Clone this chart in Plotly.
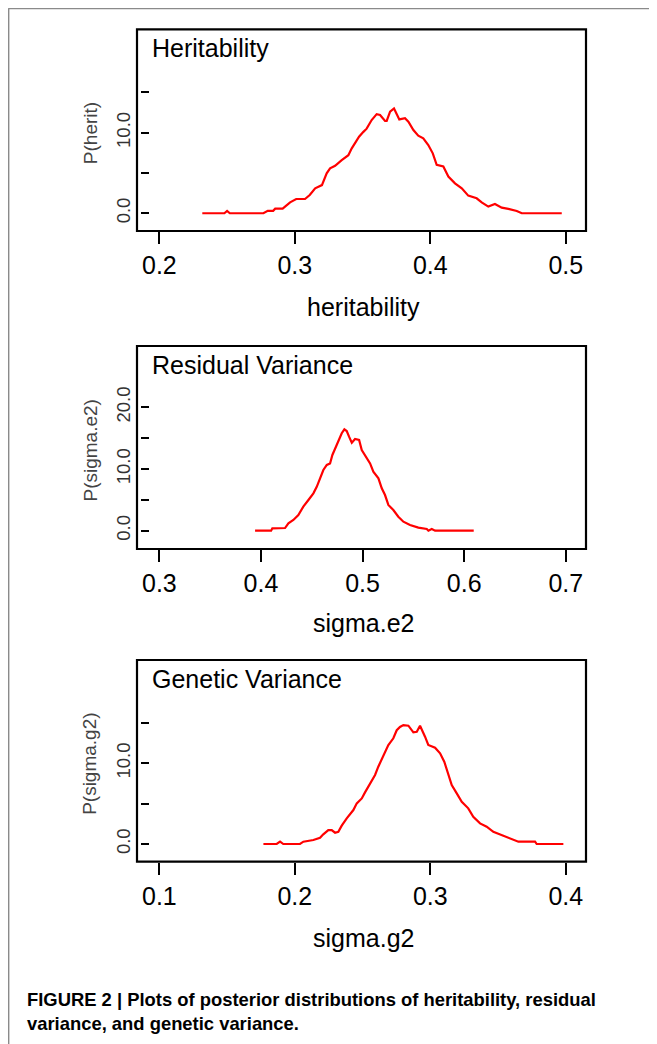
import plotly.graph_objects as go

# page body has an 8px default margin; the figure fills the rest of the window
OFF = 8
W, H = 657 - OFF, 1044 - OFF

# ---- data ----
herit_x = [0.2317, 0.2480, 0.2500, 0.2520, 0.2768, 0.2800, 0.2840, 0.2855, 0.2910, 0.2965,
           0.3010, 0.3075, 0.3110, 0.3150, 0.3200, 0.3235, 0.3260, 0.3297, 0.3346, 0.3395,
           0.3420, 0.3444, 0.3474, 0.3506, 0.3530, 0.3567, 0.3604, 0.3629, 0.3666, 0.3678,
           0.3703, 0.3732, 0.3771, 0.3813, 0.3838, 0.3875, 0.3911, 0.3948, 0.3985, 0.4018,
           0.4047, 0.4096, 0.4133, 0.4182, 0.4232, 0.4280, 0.4342, 0.4379, 0.4428, 0.4477,
           0.4527, 0.4576, 0.4638, 0.4675, 0.4970]
herit_y = [0.0, 0.0, 0.29, 0.0, 0.0, 0.30, 0.30, 0.57, 0.57, 1.36,
           1.77, 1.77, 2.27, 3.10, 3.50, 4.96, 5.58, 5.90, 6.60, 7.20,
           8.06, 8.70, 9.50, 10.10, 10.50, 11.57, 12.30, 12.20, 11.45, 11.45,
           12.60, 13.00, 11.65, 11.80, 11.37, 10.33, 9.63, 9.30, 8.47, 7.44,
           6.00, 5.80, 4.55, 3.72, 3.10, 2.19, 1.86, 1.36, 0.83, 1.16,
           0.70, 0.54, 0.29, 0.0, 0.0]

sige_x = [0.3942, 0.4100, 0.4112, 0.4237, 0.4270, 0.4319, 0.4368, 0.4417, 0.4467, 0.4516,
          0.4549, 0.4582, 0.4614, 0.4648, 0.4680, 0.4703, 0.4729, 0.4762, 0.4795, 0.4821,
          0.4844, 0.4867, 0.4894, 0.4926, 0.4966, 0.4992, 0.5031, 0.5074, 0.5106, 0.5156,
          0.5189, 0.5221, 0.5254, 0.5303, 0.5352, 0.5402, 0.5467, 0.5549, 0.5632, 0.5648,
          0.5681, 0.5714, 0.6094]
sige_y = [0.0, 0.0, 0.38, 0.43, 1.20, 1.73, 2.54, 3.90, 4.97, 6.05,
          7.10, 8.49, 9.84, 10.65, 10.90, 12.27, 13.35, 14.70, 15.80, 16.43,
          16.16, 15.24, 14.27, 14.86, 14.70, 13.08, 12.00, 10.90, 9.57, 8.49,
          6.87, 5.78, 4.17, 3.35, 2.27, 1.46, 0.92, 0.49, 0.27, 0.0,
          0.27, 0.0, 0.0]

sigg_x = [0.1768, 0.1866, 0.1891, 0.1915, 0.2038, 0.2063, 0.2137, 0.2186, 0.2210, 0.2247,
          0.2272, 0.2297, 0.2321, 0.2346, 0.2383, 0.2432, 0.2457, 0.2494, 0.2518, 0.2555,
          0.2592, 0.2616, 0.2653, 0.2690, 0.2727, 0.2752, 0.2776, 0.2801, 0.2838, 0.2875,
          0.2900, 0.2924, 0.2961, 0.2985, 0.3035, 0.3072, 0.3103, 0.3128, 0.3158, 0.3195,
          0.3232, 0.3280, 0.3317, 0.3367, 0.3416, 0.3465, 0.3527, 0.3588, 0.3650, 0.3773,
          0.3785, 0.3982]
sigg_y = [0.0, 0.0, 0.29, 0.0, 0.0, 0.29, 0.50, 0.78, 1.20, 1.73,
          1.73, 1.40, 1.52, 2.27, 3.18, 4.21, 5.04, 5.65, 6.40, 7.52,
          8.55, 9.58, 11.00, 12.27, 13.10, 14.10, 14.50, 14.74, 14.66, 13.84,
          13.90, 14.66, 13.30, 12.27, 11.93, 11.24, 10.20, 8.76, 7.31, 6.28,
          5.24, 4.42, 3.38, 2.56, 2.15, 1.52, 1.10, 0.62, 0.29, 0.29,
          0.0, 0.0]

panel_titles = ["Heritability", "Residual Variance", "Genetic Variance"]
x_titles = ["heritability", "sigma.e2", "sigma.g2"]
y_titles = ["P(herit)", "P(sigma.e2)", "P(sigma.g2)"]

x_ticks = [[0.2, 0.3, 0.4, 0.5], [0.3, 0.4, 0.5, 0.6, 0.7], [0.1, 0.2, 0.3, 0.4]]
x_ticktext = [["0.2", "0.3", "0.4", "0.5"], ["0.3", "0.4", "0.5", "0.6", "0.7"],
              ["0.1", "0.2", "0.3", "0.4"]]
y_ticks = [[0, 5, 10, 15], [0, 5, 10, 15, 20], [0, 5, 10, 15]]
y_ticktext = [["0.0", "", "10.0", ""], ["0.0", "", "10.0", "", "20.0"],
              ["0.0", "", "10.0", ""]]

caption = ("<b>FIGURE 2 | Plots of posterior distributions of heritability, residual<br>"
           "variance, and genetic variance.</b>")

# ---- layout geometry (window pixels) ----
box_left, box_right = 137, 586
boxes = [(29.3, 231.0), (346.0, 549.0), (660.0, 861.7)]
x_ranges = [[0.1835, 0.5149], [0.2780, 0.7199], [0.0835, 0.4149]]
y_ranges = [[-2.2, 22.83], [-2.97, 29.94], [-2.19, 22.8]]
panel_title_y = [48, 365, 679]
x_title_y = [307, 623, 938]

FONT = "Liberation Sans, Arial, sans-serif"


def px(xp):
    return (xp - OFF) / W


def py(yp):
    return 1 - (yp - OFF) / H


fig = go.Figure()
series = [(herit_x, herit_y), (sige_x, sige_y), (sigg_x, sigg_y)]
layout = dict(
    width=W, height=H, autosize=False,
    margin=dict(l=0, r=0, t=0, b=0),
    paper_bgcolor="white", plot_bgcolor="white",
    showlegend=False,
    font=dict(family=FONT, color="black"),
)
shapes = []
annotations = []

for i, (xs, ys) in enumerate(series):
    n = "" if i == 0 else str(i + 1)
    top, bot = boxes[i]
    fig.add_trace(go.Scatter(x=xs, y=ys, mode="lines",
                             line=dict(color="#ff0000", width=2.2),
                             xaxis="x" + n, yaxis="y" + n,
                             hoverinfo="skip"))
    layout["xaxis" + n] = dict(
        domain=[px(box_left), px(box_right)], anchor="y" + n,
        range=x_ranges[i], showgrid=False, zeroline=False, showline=False,
        ticks="outside", ticklen=12, tickwidth=2, tickcolor="black",
        tickvals=x_ticks[i], ticktext=x_ticktext[i],
        tickfont=dict(size=25, color="black", family=FONT),
    )
    layout["yaxis" + n] = dict(
        domain=[py(bot), py(top)], anchor="free", position=px(box_left + 3),
        range=y_ranges[i], showgrid=False, zeroline=False, showline=False,
        ticks="inside", ticklen=8, tickwidth=2, tickcolor="black",
        tickvals=y_ticks[i], ticktext=y_ticktext[i], tickangle=-90,
        ticklabelstandoff=6,
        tickfont=dict(size=18.5, color="#333333", family=FONT),
    )
    shapes.append(dict(type="rect", xref="x" + n + " domain", yref="y" + n + " domain",
                       x0=0, x1=1, y0=0, y1=1, line=dict(color="black", width=2.2)))
    annotations.append(dict(text=panel_titles[i], x=px(150), y=py(panel_title_y[i]),
                            xref="paper", yref="paper", xanchor="left", yanchor="middle",
                            showarrow=False, font=dict(size=25, color="black", family=FONT)))
    annotations.append(dict(text=x_titles[i], x=px((box_left + box_right) / 2 + 2),
                            y=py(x_title_y[i]), xref="paper", yref="paper",
                            xanchor="center", yanchor="middle", showarrow=False,
                            font=dict(size=25, color="black", family=FONT)))
    annotations.append(dict(text=y_titles[i], x=px(90), y=py((top + bot) / 2 + 3),
                            xref="paper", yref="paper", xanchor="center", yanchor="middle",
                            textangle=-90, showarrow=False,
                            font=dict(size=19, color="#444444", family=FONT)))

annotations.append(dict(text=caption, x=px(25), y=py(1011), xref="paper", yref="paper",
                        xanchor="left", yanchor="middle", align="left", showarrow=False,
                        font=dict(size=18.4, color="black",
                                  family="Liberation Sans Narrow, Liberation Sans, Arial")))

# outer frame (top and left edges visible)
shapes.append(dict(type="line", xref="paper", yref="paper", x0=px(8.4), x1=1.01,
                   y0=py(8.3), y1=py(8.3), line=dict(color="#8a8a8a", width=2)))
shapes.append(dict(type="line", xref="paper", yref="paper", x0=px(8.4), x1=px(8.4),
                   y0=py(8.3), y1=-0.01, line=dict(color="#8a8a8a", width=2)))

layout["shapes"] = shapes
layout["annotations"] = annotations
fig.update_layout(**layout)
fig.write_html("out.html")
